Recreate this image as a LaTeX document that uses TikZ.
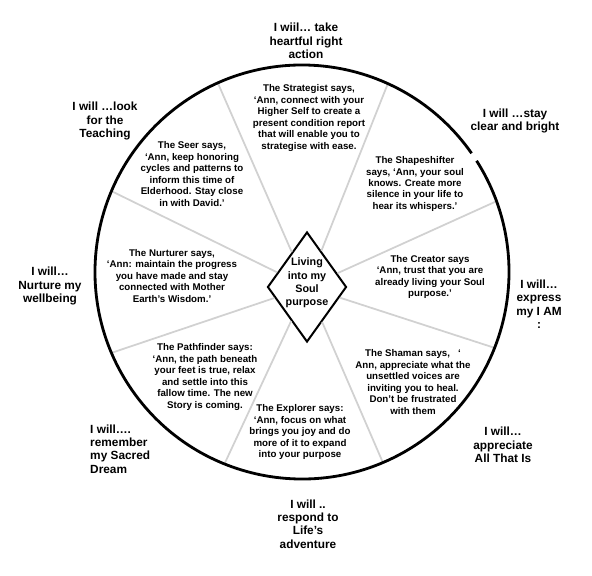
\documentclass[tikz,border=0pt]{standalone}
\usepackage{fontspec}
\setmainfont{Liberation Sans}
\usetikzlibrary{shapes.geometric}
\tikzset{
    voice/.style={align=center,inner sep=0pt,font=\bfseries\fontsize{8.3}{9.8}\selectfont},
    pledge/.style={align=center,inner sep=0pt,font=\bfseries\fontsize{10.1}{11.5}\selectfont},
    spoke/.style={draw=black!18,line width=1.5pt},
}
\begin{document}
\begin{tikzpicture}[x=0.03cm,y=0.03cm]
    \useasboundingbox (0,0) rectangle (592,575);
    \coordinate (C) at (302,303);
    \node[diamond,draw,line width=1.7pt,inner sep=0pt,minimum width=2.37cm,minimum height=3.3cm] (soul) at (307,288) {};
    \foreach \a [count=\i] in {114,65.5,20,-21.5,-67,-112,-157,157}
        \coordinate (s\i) at ([shift={(\a:207)}]C);
    \foreach \i in {1,...,8}
        \draw[spoke] (soul) -- (s\i);
    \draw[line width=2.4pt] ([shift={(35:207)}]C) arc[start angle=35,end angle=392.5,radius=207];
    \node[align=center,inner sep=0pt,font=\bfseries\fontsize{9.2}{11.5}\selectfont] (soultxt) at (307,292) {Living\\into my\\Soul\\purpose};
    % the eight voices
    \node[voice] (strategist) at (309,457) {The Strategist says,\\‘Ann, connect with your\\Higher Self to create a\\present condition report\\that will enable you to\\strategise with ease.};
    \node[voice] (shapeshifter) at (415,391) {The Shapeshifter\\says, ‘Ann, your soul\\knows. Create more\\silence in your life to\\hear its whispers.’};
    \node[voice] (creator) at (430,298) {The Creator says\\‘Ann, trust that you are\\already living your Soul\\purpose.’};
    \node[voice] (shaman) at (413,193) {The Shaman says,\ \ \ ‘\\Ann, appreciate what the\\unsettled voices are\\inviting you to heal.\\Don’t be frustrated\\with them};
    \node[voice] (explorer) at (300,143) {The Explorer says:\\‘Ann, focus on what\\brings you joy and do\\more of it to expand\\into your purpose};
    \node[voice] (pathfinder) at (205,198) {The Pathfinder says:\\‘Ann, the path beneath\\your feet is true, relax\\and settle into this\\fallow time. The new\\Story is coming.};
    \node[voice] (nurturer) at (172,299) {The Nurturer says,\\‘Ann: maintain the progress\\you have made and stay\\connected with Mother\\Earth’s Wisdom.’};
    \node[voice] (seer) at (192,401) {The Seer says,\\‘Ann, keep honoring\\cycles and patterns to\\inform this time of\\Elderhood. Stay close\\in with David.’};
    % the eight pledges
    \node[pledge] (willact) at (306,534) {I wiil… take\\heartful right\\action};
    \node[pledge] (willclear) at (515,454) {I will …stay\\clear and bright};
    \node[pledge] (willexpress) at (539,271) {I will…\\express\\my I AM\\:};
    \node[pledge] (willappreciate) at (503,130) {I will…\\appreciate\\All That Is};
    \node[pledge] (willrespond) at (308,51) {I will ..\\respond to\\Life’s\\adventure};
    \node[pledge,align=left,anchor=west] (willdream) at (90,126) {I will….\\remember\\my Sacred\\Dream};
    \node[pledge] (willnurture) at (50,289) {I will…\\Nurture my\\wellbeing};
    \node[pledge] (willteach) at (105,454) {I will …look\\for the\\Teaching};
\end{tikzpicture}
\end{document}
